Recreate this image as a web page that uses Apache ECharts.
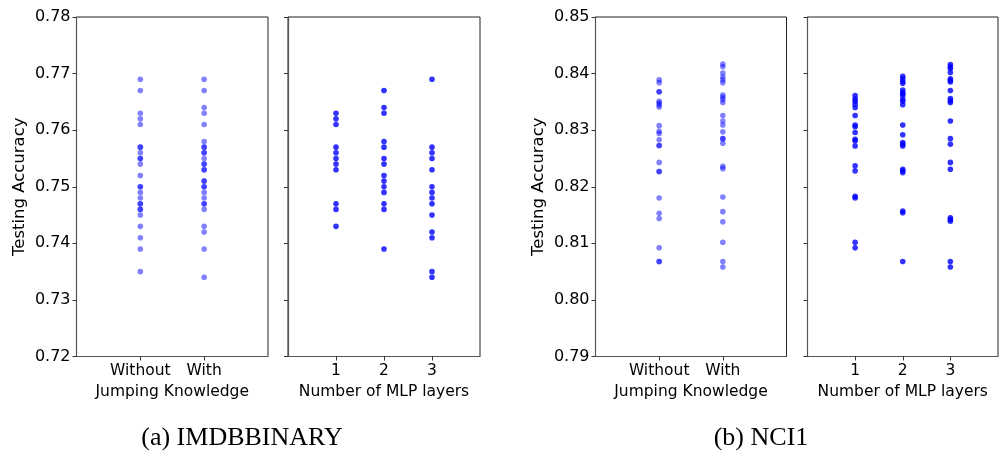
<!DOCTYPE html>
<html>
<head>
<meta charset="utf-8">
<script src="https://cdn.jsdelivr.net/npm/echarts@6/dist/echarts.min.js"></script>
<style>
html,body{margin:0;padding:0;background:#fff;}
#c{width:1000px;height:455px;}
</style>
</head>
<body>
<div id="c"></div>
<script>
// ---- categories ----
const jkCategories = ['', 'Without', 'With', ''];
const mlpCategories = ['', '1', '2', '3', ''];

// ---- tick labels / axis ranges ----
const imdbYTicks = [0.72, 0.73, 0.74, 0.75, 0.76, 0.77, 0.78];
const nciYTicks = [0.79, 0.80, 0.81, 0.82, 0.83, 0.84, 0.85];

// ---- IMDBBINARY: Jumping Knowledge ----
const imdbWithout = [0.769, 0.767, 0.763, 0.762, 0.761, 0.757, 0.757, 0.756, 0.755, 0.755, 0.754, 0.752,
  0.750, 0.750, 0.749, 0.748, 0.747, 0.747, 0.746, 0.746, 0.745, 0.743, 0.741, 0.739, 0.735];
const imdbWith = [0.769, 0.767, 0.764, 0.763, 0.761, 0.758, 0.757, 0.757, 0.756, 0.756, 0.755, 0.754, 0.754,
  0.753, 0.753, 0.751, 0.751, 0.750, 0.750, 0.749, 0.748, 0.747, 0.747, 0.746, 0.743, 0.742, 0.739, 0.734];

// ---- IMDBBINARY: MLP layers ----
const imdbMlp1 = [0.763, 0.762, 0.761, 0.757, 0.756, 0.755, 0.754, 0.753, 0.747, 0.746, 0.743];
const imdbMlp2 = [0.767, 0.764, 0.763, 0.758, 0.757, 0.755, 0.754, 0.752, 0.751, 0.750, 0.749, 0.747, 0.746, 0.739];
const imdbMlp3 = [0.769, 0.757, 0.756, 0.755, 0.753, 0.750, 0.749, 0.748, 0.747, 0.745, 0.742, 0.741, 0.735, 0.734];

// ---- NCI1: Jumping Knowledge ----
const nciWithout = [0.8389, 0.8384, 0.8368, 0.8368, 0.8351, 0.8348, 0.8345, 0.8341, 0.8308, 0.8298, 0.8294,
  0.8283, 0.8273, 0.8273, 0.8243, 0.8227, 0.8227, 0.8180, 0.8153, 0.8144, 0.8092, 0.8068, 0.8068];
const nciWith = [0.8417, 0.8412, 0.8401, 0.8394, 0.8389, 0.8384, 0.8362, 0.8358, 0.8354, 0.8349, 0.8326,
  0.8316, 0.8309, 0.8297, 0.8285, 0.8285, 0.8277, 0.8236, 0.8232, 0.8182, 0.8156, 0.8138, 0.8102, 0.8068, 0.8058];

// ---- NCI1: MLP layers ----
const nciMlp1 = [0.8361, 0.8355, 0.8351, 0.8346, 0.8340, 0.8326, 0.8309, 0.8306, 0.8296, 0.8284, 0.8281,
  0.8272, 0.8237, 0.8228, 0.8183, 0.8180, 0.8102, 0.8092];
const nciMlp2 = [0.8395, 0.8391, 0.8386, 0.8383, 0.8371, 0.8367, 0.8364, 0.8361, 0.8354, 0.8351, 0.8345,
  0.8309, 0.8292, 0.8278, 0.8275, 0.8272, 0.8231, 0.8228, 0.8225, 0.8157, 0.8154, 0.8068];
const nciMlp3 = [0.8416, 0.8412, 0.8409, 0.8402, 0.8391, 0.8388, 0.8385, 0.8370, 0.8356, 0.8352, 0.8349,
  0.8316, 0.8285, 0.8275, 0.8243, 0.8231, 0.8145, 0.8142, 0.8139, 0.8068, 0.8058];

// ---- captions & labels ----
const yAxisTitle = 'Testing Accuracy';
const jkAxisTitle = 'Jumping Knowledge';
const mlpAxisTitle = 'Number of MLP layers';
const captionA = '(a) IMDBBINARY';
const captionB = '(b) NCI1';

const FONT = 'DejaVu Sans';
const lightBlue = 'rgba(0,0,255,0.62)';
const solidBlue = '#0000ff';

const grids = [
  {left: 76.5, right: 732, top: 17, bottom: 98.5},
  {left: 288, right: 520, top: 17, bottom: 98.5},
  {left: 595.5, right: 213.5, top: 17, bottom: 98.5},
  {left: 807.5, right: 2, top: 17, bottom: 98.5}
];

function xAxisFor(gridIndex, cats, title) {
  return {
    type: 'category', gridIndex: gridIndex, data: cats, boundaryGap: false,
    name: title, nameLocation: 'middle', nameGap: 27,
    nameTextStyle: {fontFamily: FONT, fontSize: 15.5, color: '#000'},
    axisLine: {show: true, lineStyle: {color: '#555', width: 1.2}},
    axisTick: {show: true, length: 4, interval: function (i, v) { return v !== ''; }, lineStyle: {color: '#333', width: 1}},
    axisLabel: {show: true, interval: function (i, v) { return v !== ''; }, margin: 6, fontFamily: FONT, fontSize: 15.5, color: '#000'},
    splitLine: {show: false}
  };
}
function yAxisFor(gridIndex, ticks, showLabels) {
  const step = 0.01;
  return {
    type: 'value', gridIndex: gridIndex,
    min: ticks[0], max: ticks[ticks.length - 1], interval: step,
    name: showLabels ? yAxisTitle : '', nameLocation: 'middle', nameGap: 48,
    nameTextStyle: {fontFamily: FONT, fontSize: 16.5, color: '#000'},
    axisLine: {show: true, lineStyle: {color: '#555', width: 1.2}},
    axisTick: {show: true, length: 4, lineStyle: {color: '#333', width: 1}},
    axisLabel: {show: showLabels, margin: 6, fontFamily: FONT, fontSize: 16, color: '#000',
      formatter: function (v) { return v.toFixed(2); }},
    splitLine: {show: false}
  };
}
function pts(cat, vals) { return vals.map(function (v) { return [cat, v]; }); }
function sc(idx, data, color) {
  return {type: 'scatter', xAxisIndex: idx, yAxisIndex: idx, data: data, symbolSize: 5.6,
    itemStyle: {color: color}, silent: true, animation: false};
}

const chart = echarts.init(document.getElementById('c'), null, {renderer: 'canvas'});
chart.setOption({
  animation: false,
  backgroundColor: '#fff',
  grid: grids.map(function (g) {
    return Object.assign({show: true, borderColor: '#222', borderWidth: 1, backgroundColor: 'transparent'}, g);
  }),
  xAxis: [
    xAxisFor(0, jkCategories, jkAxisTitle),
    xAxisFor(1, mlpCategories, mlpAxisTitle),
    xAxisFor(2, jkCategories, jkAxisTitle),
    xAxisFor(3, mlpCategories, mlpAxisTitle)
  ],
  yAxis: [
    yAxisFor(0, imdbYTicks, true),
    yAxisFor(1, imdbYTicks, false),
    yAxisFor(2, nciYTicks, true),
    yAxisFor(3, nciYTicks, false)
  ],
  series: [
    sc(0, pts('Without', imdbWithout), lightBlue),
    sc(0, pts('With', imdbWith), lightBlue),
    sc(1, pts('1', imdbMlp1), solidBlue),
    sc(1, pts('2', imdbMlp2), solidBlue),
    sc(1, pts('3', imdbMlp3), solidBlue),
    sc(2, pts('Without', nciWithout), lightBlue),
    sc(2, pts('With', nciWith), lightBlue),
    sc(3, pts('1', nciMlp1), solidBlue),
    sc(3, pts('2', nciMlp2), solidBlue),
    sc(3, pts('3', nciMlp3), solidBlue)
  ],
  graphic: [
    {type: 'text', x: 242, y: 438, style: {text: captionA, fontFamily: 'Liberation Serif', fontSize: 26, fill: '#000', textAlign: 'center', textVerticalAlign: 'middle'}},
    {type: 'text', x: 761, y: 438, style: {text: captionB, fontFamily: 'Liberation Serif', fontSize: 26, fill: '#000', textAlign: 'center', textVerticalAlign: 'middle'}}
  ]
});
</script>
</body>
</html>
